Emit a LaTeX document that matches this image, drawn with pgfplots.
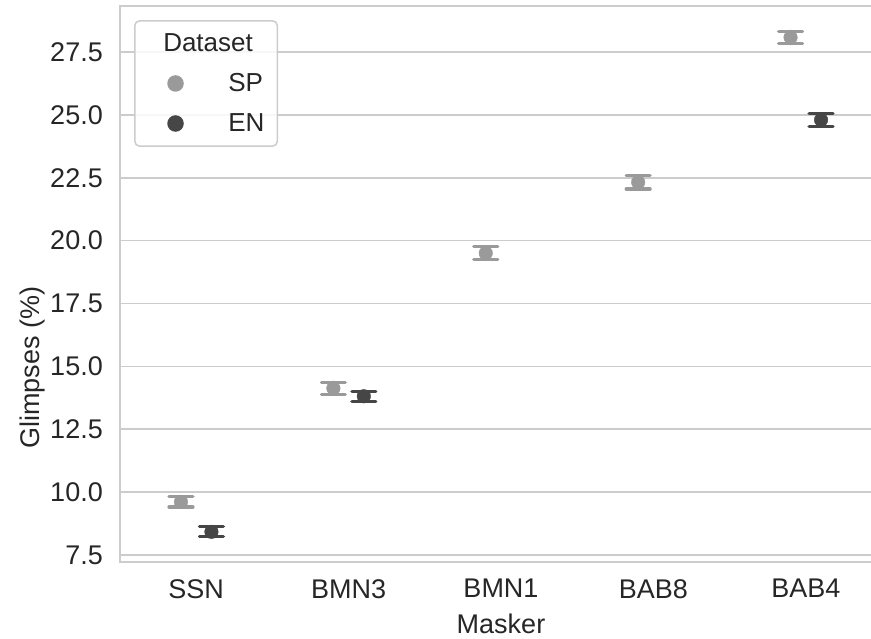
\documentclass[border=0pt]{standalone}
\usepackage{pgfplots}
\pgfplotsset{compat=1.18}
\usepackage{fontspec}
\setmainfont{Liberation Sans}
\definecolor{sp}{HTML}{9A9A9A}
\definecolor{en}{HTML}{464646}
\definecolor{gridc}{HTML}{CCCCCC}
\definecolor{txt}{HTML}{262626}
\newcommand{\bigf}{\fontsize{27}{32}\selectfont}
\newcommand{\legf}{\fontsize{26}{31}\selectfont}
\begin{document}
\begin{tikzpicture}[x=1pt,y=1pt]
\begin{axis}[
  at={(0pt,0pt)}, anchor=south west,
  scale only axis, width=762pt, height=556pt,
  xmin=-0.5, xmax=4.5, ymin=7.22, ymax=29.33,
  xtick={0,1,2,3,4}, xticklabels={SSN,BMN3,BMN1,BAB8,BAB4},
  ytick={7.5,10,12.5,15,17.5,20,22.5,25,27.5},
  /pgf/number format/assume math mode=true,
  yticklabel={\pgfmathprintnumber[fixed,fixed zerofill,precision=1]{\tick}},
  major tick length=0pt,
  ymajorgrids, grid style={gridc, line width=1.6pt},
  axis line style={gridc, line width=1.6pt},
  tick label style={font=\bigf, text=txt},
  yticklabel style={inner sep=0pt, xshift=-17pt},
  xticklabel style={inner sep=0pt, yshift=-17pt},
  xlabel={Masker}, ylabel={Glimpses (\%)},
  label style={font=\bigf, text=txt},
  x label style={at={(axis description cs:0.5,-0.0935)}, anchor=north, inner sep=0pt},
  y label style={at={(axis description cs:-0.0985,0.349)}, anchor=south, inner sep=0pt},
  legend style={at={(axis description cs:0.0184,0.9748)}, anchor=north west,
    draw=gridc, line width=1.5pt, rounded corners=5pt, fill=white, fill opacity=0.85, text opacity=1,
    font=\legf, text=txt, inner xsep=13pt, inner ysep=13pt,
    nodes={inner sep=0pt}, row sep=20.5pt, /tikz/column sep=0pt},
  legend cell align=left,
  clip=false,
]
\addlegendimage{empty legend}
\addlegendentry{\hspace*{-65pt}Dataset}
\addlegendimage{legend image code/.code={\fill[sp, fill opacity=1] (27pt,0pt) circle (7.5pt); \path (0pt,-7.5pt) (79pt,7.5pt);}}
\addlegendentry{SP}
\addlegendimage{legend image code/.code={\fill[en, fill opacity=1] (27pt,0pt) circle (7.5pt); \path (0pt,-7.5pt) (79pt,7.5pt);}}
\addlegendentry{EN}

\addplot[forget plot, only marks, mark=*, mark size=6.8pt, color=sp,
  mark options={solid, fill=sp, draw=sp},
  error bars/.cd, y dir=both, y explicit, error mark=|,
  error bar style={line width=3.2pt, line cap=round, color=sp},
  error mark options={line width=3.2pt, mark size=12pt, line cap=round, color=sp}]
coordinates {
  (-0.1,9.61) +- (0,0.20)
  (0.9,14.13) +- (0,0.24)
  (1.9,19.50) +- (0,0.25)
  (2.9,22.32) +- (0,0.27)
  (3.9,28.08) +- (0,0.25)
};
\addplot[forget plot, only marks, mark=*, mark size=6.8pt, color=en,
  mark options={solid, fill=en, draw=en},
  error bars/.cd, y dir=both, y explicit, error mark=|,
  error bar style={line width=3.2pt, line cap=round, color=en},
  error mark options={line width=3.2pt, mark size=12pt, line cap=round, color=en}]
coordinates {
  (0.1,8.42) +- (0,0.20)
  (1.1,13.81) +- (0,0.20)
  (4.1,24.80) +- (0,0.25)
};
\end{axis}
\pgfresetboundingbox
\useasboundingbox (-120pt,-77pt) rectangle (751pt,562pt);
\end{tikzpicture}
\end{document}
